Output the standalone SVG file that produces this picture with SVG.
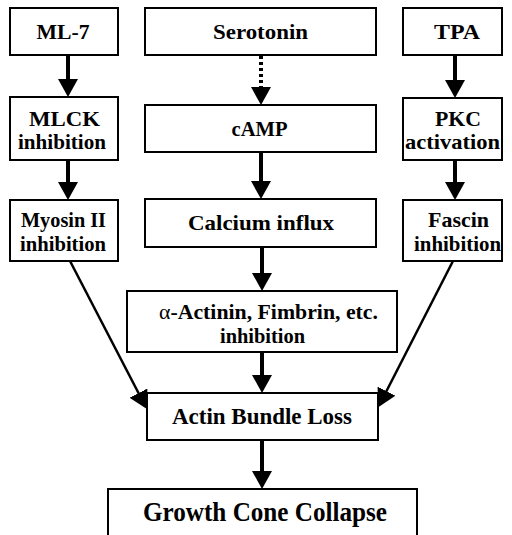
<svg xmlns="http://www.w3.org/2000/svg" width="512" height="535" viewBox="0 0 512 535">
<style>
.box{fill:#fff;stroke:#000;stroke-width:2}
.t{font-family:"Liberation Serif","Times New Roman",serif;font-weight:bold;font-size:22px;fill:#000;text-anchor:middle}
.a{stroke:#000;stroke-width:4;fill:none}
.d{stroke:#000;stroke-width:2.5;fill:none}
</style>
<defs>
<marker id="ah" viewBox="0 0 18 20" refX="1" refY="10" markerWidth="18" markerHeight="20" markerUnits="userSpaceOnUse" orient="auto">
<path d="M0,0 L18,10 L0,20 z" fill="#000"/>
</marker>
</defs>
<rect width="512" height="535" fill="#fff"/>
<g id="connectors">
<line class="a" x1="68" y1="55" x2="68" y2="80" marker-end="url(#ah)"/>
<line class="a" x1="261" y1="56" x2="261" y2="88" stroke-width="3" stroke-dasharray="3,3" marker-end="url(#ah)"/>
<line class="a" x1="455" y1="55" x2="455" y2="81" marker-end="url(#ah)"/>
<line class="a" x1="68" y1="160" x2="68" y2="183" marker-end="url(#ah)"/>
<line class="a" x1="261" y1="152" x2="261" y2="182" marker-end="url(#ah)"/>
<line class="a" x1="455" y1="160" x2="455" y2="183" marker-end="url(#ah)"/>
<line class="a" x1="262" y1="247" x2="262" y2="274" marker-end="url(#ah)"/>
<line class="a" x1="262" y1="352" x2="262" y2="376" marker-end="url(#ah)"/>
<line class="a" x1="262" y1="440" x2="262" y2="472" marker-end="url(#ah)"/>
<line class="d" x1="70" y1="261" x2="139" y2="394" marker-end="url(#ah)"/>
<line class="d" x1="453" y1="261" x2="386" y2="392" marker-end="url(#ah)"/>
</g>
<g id="ml7"><rect class="box" x="10" y="8" width="108" height="47"/><text class="t" x="63" y="39" textLength="53" lengthAdjust="spacingAndGlyphs">ML-7</text></g>
<g id="serotonin"><rect class="box" x="145" y="8" width="231" height="47"/><text class="t" x="260.5" y="39" textLength="95" lengthAdjust="spacingAndGlyphs">Serotonin</text></g>
<g id="tpa"><rect class="box" x="403" y="8" width="99" height="47"/><text class="t" x="457" y="39" textLength="46" lengthAdjust="spacingAndGlyphs">TPA</text></g>
<g id="mlck"><rect class="box" x="10" y="97" width="108" height="63"/><text class="t" x="64.5" y="126" textLength="71" lengthAdjust="spacingAndGlyphs">MLCK</text><text class="t" x="62" y="149" textLength="88" lengthAdjust="spacingAndGlyphs">inhibition</text></g>
<g id="camp"><rect class="box" x="145" y="105" width="231" height="47"/><text class="t" x="259.5" y="136" textLength="56" lengthAdjust="spacingAndGlyphs">cAMP</text></g>
<g id="pkc"><rect class="box" x="403" y="98" width="99" height="62"/><text class="t" x="458" y="126" textLength="46" lengthAdjust="spacingAndGlyphs">PKC</text><text class="t" x="452.5" y="149" textLength="95" lengthAdjust="spacingAndGlyphs">activation</text></g>
<g id="myosin"><rect class="box" x="10" y="200" width="108" height="61"/><text class="t" x="63.5" y="227" textLength="85" lengthAdjust="spacingAndGlyphs">Myosin II</text><text class="t" x="63" y="251" textLength="86" lengthAdjust="spacingAndGlyphs">inhibition</text></g>
<g id="calcium"><rect class="box" x="145" y="199" width="231" height="48"/><text class="t" x="261" y="230" textLength="146" lengthAdjust="spacingAndGlyphs">Calcium influx</text></g>
<g id="fascin"><rect class="box" x="403" y="200" width="99" height="61"/><text class="t" x="458.5" y="227" textLength="61" lengthAdjust="spacingAndGlyphs">Fascin</text><text class="t" x="457.5" y="251" textLength="87" lengthAdjust="spacingAndGlyphs">inhibition</text></g>
<g id="actinin"><rect class="box" x="127" y="291" width="270" height="61"/><text class="t" x="268.5" y="319" textLength="219" lengthAdjust="spacingAndGlyphs"><tspan font-weight="normal">α</tspan>-Actinin, Fimbrin, etc.</text><text class="t" x="262.5" y="343" textLength="85" lengthAdjust="spacingAndGlyphs">inhibition</text></g>
<g id="actin"><rect class="box" x="147" y="393" width="231" height="47"/><text class="t" x="262" y="424" style="font-size:24px" textLength="180" lengthAdjust="spacingAndGlyphs">Actin Bundle Loss</text></g>
<g id="growth"><rect class="box" x="108" y="489" width="309" height="50"/><text class="t" x="265" y="521" style="font-size:27px" textLength="244" lengthAdjust="spacingAndGlyphs">Growth Cone Collapse</text></g>
</svg>
